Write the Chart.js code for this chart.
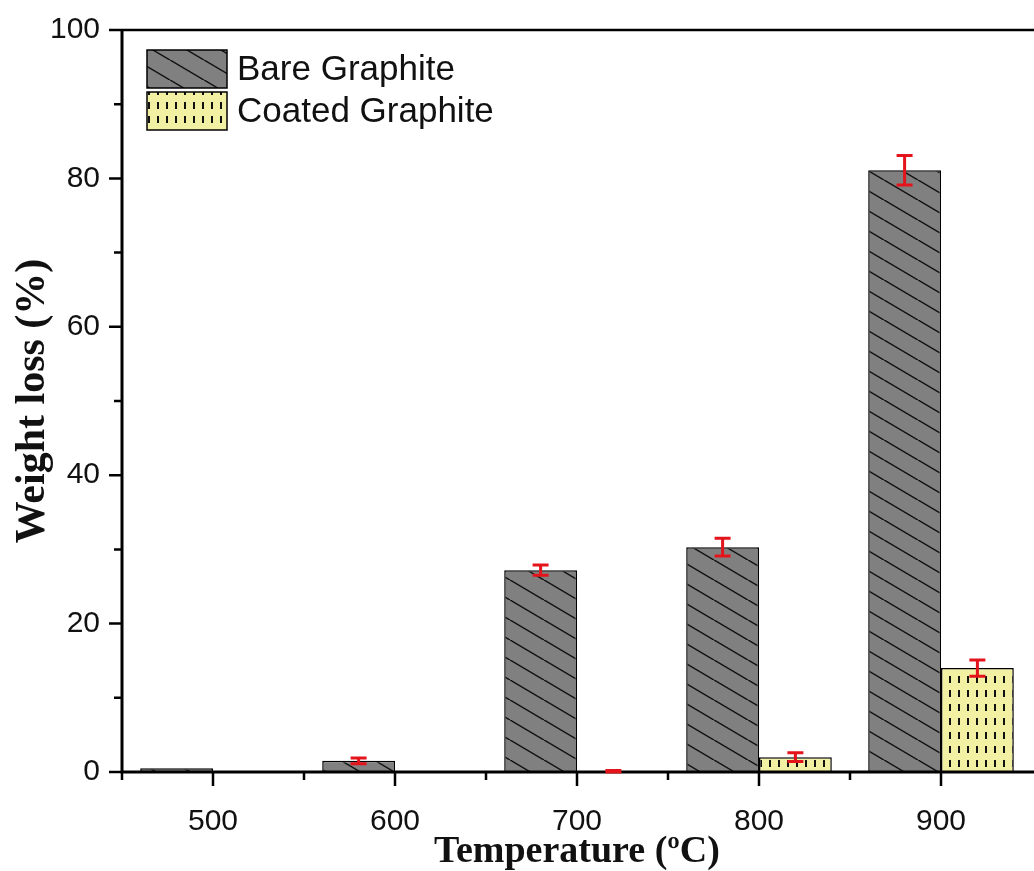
<!DOCTYPE html>
<html>
<head>
<meta charset="utf-8">
<title>Weight loss vs temperature</title>
<script src="https://cdn.jsdelivr.net/npm/chart.js@4.4.1/dist/chart.umd.min.js"></script>
<style>
  html, body { margin: 0; padding: 0; background: #fff; }
  #chart { display: block; }
</style>
</head>
<body>
<canvas id="chart" width="1034" height="871"></canvas>
<script>
const temperatures = ["500", "600", "700", "800", "900"];
const bareLoss = [0.5, 1.5, 27.2, 30.3, 81.1];
const bareError = [0, 0.4, 0.7, 1.2, 2.0];
const coatedLoss = [0, 0, 0, 2.0, 14.0];
const coatedError = [0, 0, 0.2, 0.6, 1.1];
const yTicks = [0, 20, 40, 60, 80, 100];
const yMinorTicks = [10, 30, 50, 70, 90];

// diagonal hatch on grey, like the bare samples
function hatchPattern() {
  const c = document.createElement("canvas");
  const w = 34, h = 20;
  c.width = w;
  c.height = h;
  const g = c.getContext("2d");
  g.fillStyle = "#808080";
  g.fillRect(0, 0, w, h);
  g.strokeStyle = "#111";
  g.lineWidth = 1.5;
  g.beginPath();
  for (const dx of [-w, 0, w]) {
    g.moveTo(dx, 0);
    g.lineTo(dx + w, h);
  }
  g.stroke();
  return g.createPattern(c, "repeat");
}

// short vertical dashes on pale yellow, for the coated samples
function dashPattern() {
  const c = document.createElement("canvas");
  c.width = 9;
  c.height = 14;
  const g = c.getContext("2d");
  g.fillStyle = "#f2f0a2";
  g.fillRect(0, 0, 9, 14);
  g.fillStyle = "#111";
  g.fillRect(4, 4, 2, 7);
  return g.createPattern(c, "repeat");
}

const axisFrame = {
  id: "axisFrame",
  afterDatasetsDraw(chart) {
    const { ctx, chartArea: a, scales: { x, y } } = chart;
    ctx.save();
    ctx.strokeStyle = "#000";

    ctx.lineWidth = 3;
    ctx.beginPath();
    ctx.moveTo(a.left, a.top);
    ctx.lineTo(a.left, a.bottom);
    ctx.moveTo(a.left - 1.5, a.bottom);
    ctx.lineTo(chart.width, a.bottom);
    ctx.stroke();

    ctx.lineWidth = 2.5;
    ctx.beginPath();
    ctx.moveTo(a.left, a.top);
    ctx.lineTo(chart.width, a.top);
    ctx.stroke();

    // y tick marks, pointing out
    ctx.lineWidth = 2.5;
    ctx.beginPath();
    yTicks.forEach((v) => {
      const py = y.getPixelForValue(v);
      ctx.moveTo(a.left - 13, py);
      ctx.lineTo(a.left, py);
    });
    yMinorTicks.forEach((v) => {
      const py = y.getPixelForValue(v);
      ctx.moveTo(a.left - 8, py);
      ctx.lineTo(a.left, py);
    });

    // x tick marks: long at the labels, short between categories
    const half = (x.getPixelForValue(1) - x.getPixelForValue(0)) / 2;
    temperatures.forEach((t, i) => {
      const px = x.getPixelForValue(i);
      ctx.moveTo(px, a.bottom);
      ctx.lineTo(px, a.bottom + 14);
      ctx.moveTo(px - half, a.bottom);
      ctx.lineTo(px - half, a.bottom + 8);
    });
    ctx.stroke();
    ctx.restore();
  }
};

const errorBars = {
  id: "errorBars",
  afterDatasetsDraw(chart) {
    const { ctx, scales: { y } } = chart;
    ctx.save();
    ctx.strokeStyle = "#e3141c";
    ctx.lineWidth = 3;
    chart.data.datasets.forEach((ds, i) => {
      const meta = chart.getDatasetMeta(i);
      ds.data.forEach((v, j) => {
        const err = ds.errors[j];
        if (!err) return;
        const px = meta.data[j].x;
        const top = y.getPixelForValue(v + err);
        const bottom = y.getPixelForValue(Math.max(v - err, 0));
        ctx.beginPath();
        ctx.moveTo(px, top);
        ctx.lineTo(px, bottom);
        ctx.moveTo(px - 8, top);
        ctx.lineTo(px + 8, top);
        ctx.moveTo(px - 8, bottom);
        ctx.lineTo(px + 8, bottom);
        ctx.stroke();
      });
    });
    ctx.restore();
  }
};

const boxLegend = {
  id: "boxLegend",
  afterDraw(chart) {
    const { ctx, chartArea: a } = chart;
    ctx.save();
    ctx.font = "35px 'Liberation Sans', Arial, sans-serif";
    ctx.textBaseline = "middle";
    chart.data.datasets.forEach((ds, i) => {
      const bx = a.left + 25;
      const by = a.top + 20 + i * 42;
      ctx.fillStyle = ds.backgroundColor;
      ctx.fillRect(bx, by, 80, 38);
      ctx.strokeStyle = "#000";
      ctx.lineWidth = 1.5;
      ctx.strokeRect(bx, by, 80, 38);
      ctx.fillStyle = "#111";
      ctx.fillText(ds.label, bx + 90, by + 20);
    });
    ctx.restore();
  }
};

const ctx = document.querySelector("#chart");

new Chart(ctx, {
  type: "bar",
  data: {
    labels: temperatures,
    datasets: [
      {
        label: "Bare Graphite",
        data: bareLoss,
        errors: bareError,
        backgroundColor: hatchPattern(),
        borderColor: "#000",
        borderWidth: 1.5
      },
      {
        label: "Coated Graphite",
        data: coatedLoss,
        errors: coatedError,
        backgroundColor: dashPattern(),
        borderColor: "#000",
        borderWidth: 1.5
      }
    ]
  },
  options: {
    responsive: false,
    animation: false,
    categoryPercentage: 0.8,
    barPercentage: 1.0,
    layout: { padding: { top: 30, right: 2, left: 0, bottom: 0 } },
    plugins: {
      legend: { display: false },
      tooltip: { enabled: false }
    },
    scales: {
      x: {
        grid: { display: false, drawTicks: false },
        border: { display: false },
        ticks: {
          color: "#111",
          padding: 32,
          maxRotation: 0,
          font: { family: "'Liberation Sans', Arial, sans-serif", size: 30 }
        },
        title: {
          display: true,
          text: "Temperature (ºC)",
          color: "#111",
          padding: 0,
          font: { family: "'Liberation Serif', 'Times New Roman', serif", size: 38, weight: "bold", lineHeight: 1 }
        },
        afterFit(scale) {
          scale.height = 99;
          scale.paddingLeft = 0;
          scale.paddingRight = 0;
        }
      },
      y: {
        min: 0,
        max: 100,
        grid: { display: false, drawTicks: false },
        border: { display: false },
        ticks: {
          color: "#111",
          padding: 22,
          font: { family: "'Liberation Sans', Arial, sans-serif", size: 30 }
        },
        afterBuildTicks(scale) {
          scale.ticks = yTicks.map((v) => ({ value: v }));
        },
        title: {
          display: true,
          text: "Weight loss (%)",
          color: "#111",
          padding: { top: 8, bottom: 0 },
          font: { family: "'Liberation Serif', 'Times New Roman', serif", size: 42, weight: "bold" }
        },
        afterFit(scale) {
          scale.width = 122;
          scale.paddingTop = 0;
          scale.paddingBottom = 0;
        }
      }
    }
  },
  plugins: [axisFrame, errorBars, boxLegend]
});
</script>
</body>
</html>
